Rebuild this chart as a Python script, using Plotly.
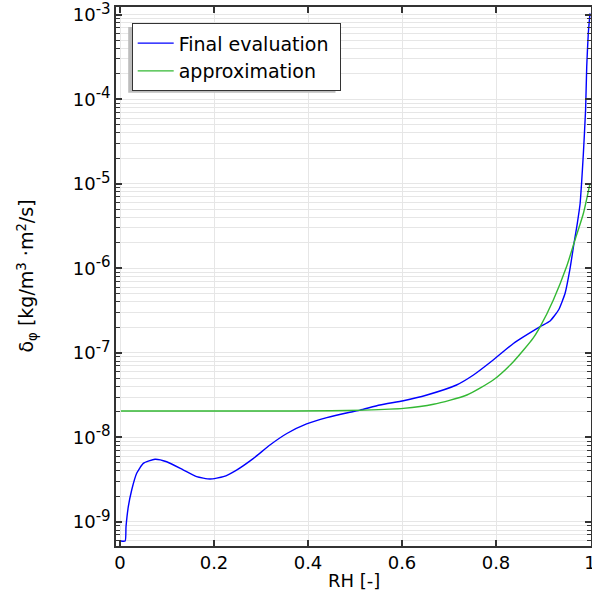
import plotly.graph_objects as go

# ---- data ----
x_final = [0.002, 0.011, 0.0128, 0.0177, 0.0249, 0.0355, 0.0496, 0.0745, 0.0994, 0.135,
           0.163, 0.1915, 0.22, 0.248, 0.284, 0.319, 0.355, 0.397, 0.44, 0.489,
           0.511, 0.553, 0.603, 0.653, 0.716, 0.752, 0.794, 0.837, 0.894, 0.915,
           0.933, 0.947, 0.957, 0.966, 0.973, 0.979, 0.982, 0.9857, 0.9906, 0.993,
           0.9964, 1.0]
y_final = [5.93e-10, 5.93e-10, 8.75e-10, 1.51e-9, 2.38e-9, 3.75e-9, 4.92e-9, 5.50e-9, 5.14e-9, 4.10e-9,
           3.42e-9, 3.21e-9, 3.42e-9, 4.10e-9, 5.64e-9, 8.11e-9, 1.11e-8, 1.44e-8, 1.71e-8, 1.98e-8,
           2.10e-8, 2.41e-8, 2.71e-8, 3.17e-8, 4.16e-8, 5.46e-8, 8.22e-8, 1.29e-7, 2.04e-7, 2.38e-7,
           3.21e-7, 5.06e-7, 9.55e-7, 1.98e-6, 3.41e-6, 5.88e-6, 1.01e-5, 2.19e-5, 7.47e-5, 2.43e-4,
           6.09e-4, 1.04e-3]

x_approx = [0.002, 0.3, 0.45, 0.52, 0.603, 0.667, 0.738, 0.794, 0.837, 0.879,
            0.894, 0.922, 0.950, 0.968, 0.986, 1.0]
y_approx = [2.05e-8, 2.05e-8, 2.06e-8, 2.1e-8, 2.2e-8, 2.46e-8, 3.17e-8, 4.77e-8, 7.85e-8, 1.49e-7,
            2.04e-7, 4.22e-7, 1.04e-6, 2.16e-6, 4.48e-6, 1.01e-5]

x_ticks = [0, 0.2, 0.4, 0.6, 0.8, 1.0]
x_ticktext = ["0", "0.2", "0.4", "0.6", "0.8", "1"]
y_exponents = [-9, -8, -7, -6, -5, -4, -3]

FONT = "DejaVu Sans"
AX = "#333333"
GRID = "#e6e6e6"

y_tickvals = [10.0 ** e for e in y_exponents]
y_ticktext = ["10<sup><span style='font-size:15px'>-%d</span></sup>" % (-e) for e in y_exponents]
y_minor = [k * 10.0 ** e for e in range(-10, -2) for k in range(2, 10)]

fig = go.Figure()
fig.add_trace(go.Scatter(x=x_final, y=y_final, mode="lines", name="Final evaluation\u00a0",
                         line=dict(color="#0000ff", width=1.4, shape="spline", smoothing=0.5)))
fig.add_trace(go.Scatter(x=x_approx, y=y_approx, mode="lines", name="approximation",
                         line=dict(color="#33b833", width=1.4, shape="spline", smoothing=0.6)))

W, H = 592, 594
ml, mr, mt, mb = 116, 1, 7, 48
pw = W - ml - mr
ph = H - mt - mb

def px2paper_x(p):
    return (p - ml) / pw

def px2paper_y(p):
    return 1 - (p - mt) / ph

# legend shadow, offset (-3.5, +3.5) from the legend box
fig.add_shape(type="rect", xref="paper", yref="paper", layer="above",
              x0=px2paper_x(128.2), x1=px2paper_x(335.5),
              y0=px2paper_y(92.8), y1=px2paper_y(27),
              fillcolor="#bdbdbd", line=dict(width=0))

fig.update_layout(
    width=W, height=H,
    margin=dict(l=ml, r=mr, t=mt, b=mb, autoexpand=False),
    paper_bgcolor="white", plot_bgcolor="white",
    font=dict(family=FONT, size=18, color="black"),
    showlegend=True,
    legend=dict(x=px2paper_x(131.7), y=px2paper_y(23.3), xanchor="left", yanchor="top",
                bgcolor="white", bordercolor=AX, borderwidth=1, itemwidth=36,
                font=dict(family=FONT, size=19, color="black")),
    xaxis=dict(range=[-0.0085, 1.0021], tickmode="array", tickvals=x_ticks, ticktext=x_ticktext,
               ticks="inside", ticklen=6, tickwidth=1.5, tickcolor=AX,
               showline=True, linecolor=AX, linewidth=1.5, mirror="allticks",
               showgrid=True, gridcolor=GRID, gridwidth=1, zeroline=False,
               ticklabeloverflow="allow", automargin=False,
               tickfont=dict(family=FONT, size=18, color="black")),
    yaxis=dict(type="log", range=[-9.286, -2.908], tickmode="array",
               tickvals=y_tickvals, ticktext=y_ticktext,
               ticks="inside", ticklen=6, tickwidth=1.5, tickcolor=AX,
               showline=True, linecolor=AX, linewidth=1.5, mirror="allticks",
               showgrid=True, gridcolor=GRID, gridwidth=1, zeroline=False,
               ticklabeloverflow="allow", automargin=False,
               tickfont=dict(family=FONT, size=18, color="black"),
               minor=dict(tickmode="array", tickvals=y_minor, ticks="inside", ticklen=4,
                          tickwidth=1, tickcolor=AX, showgrid=True, gridcolor=GRID, gridwidth=1)),
    annotations=[
        dict(text="RH [-]", xref="paper", yref="paper", x=0.5, y=px2paper_y(580),
             xanchor="center", yanchor="middle", showarrow=False,
             font=dict(family=FONT, size=18, color="black")),
        dict(text="δ<sub>φ</sub> [kg/m<sup>3</sup> ·m<sup>2</sup>/s]", xref="paper", yref="paper",
             x=px2paper_x(27), y=0.5, xanchor="center", yanchor="middle", textangle=-90,
             showarrow=False, font=dict(family=FONT, size=19, color="black")),
    ],
)

fig.write_html("out.html")
